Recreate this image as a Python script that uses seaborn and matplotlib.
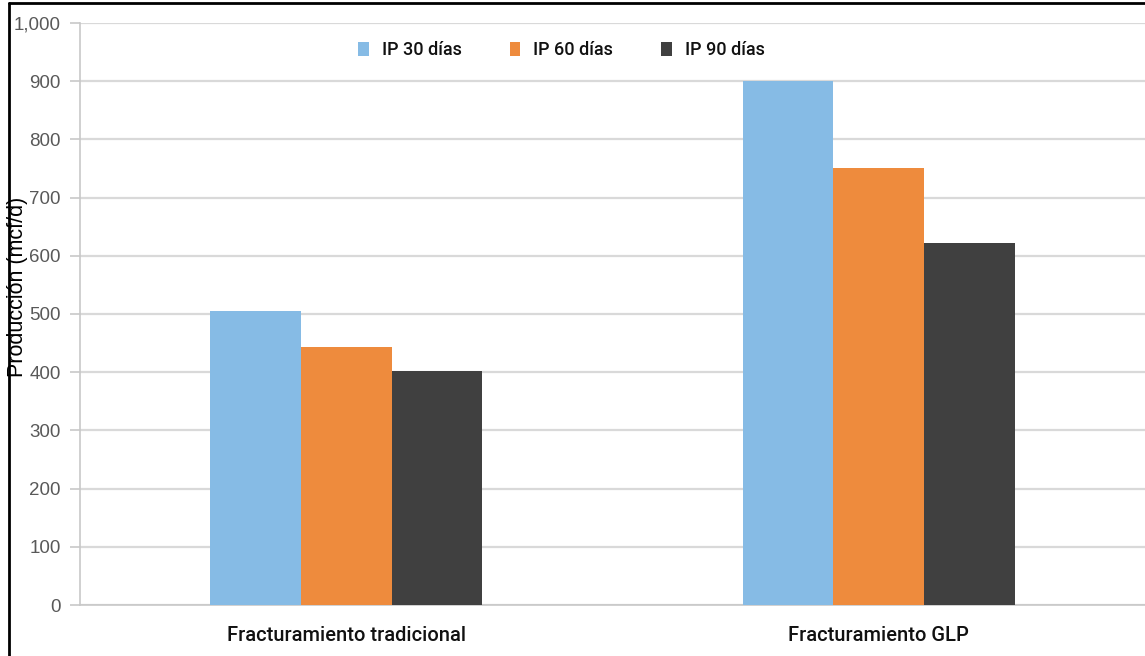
import matplotlib
matplotlib.use("Agg")
import matplotlib.pyplot as plt
import seaborn as sns
import pandas as pd
from matplotlib.lines import Line2D
from matplotlib.patches import Patch

# Production data (mcf/d) by fracturing method and initial-production window
categories = ["Fracturamiento tradicional", "Fracturamiento GLP"]
series = ["IP 30 días", "IP 60 días", "IP 90 días"]
ip30 = [505, 900]
ip60 = [443, 751]
ip90 = [402, 622]
yticks = [0, 100, 200, 300, 400, 500, 600, 700, 800, 900, 1000]
colors = ["#86BBE5", "#EE8B3D", "#404040"]

rows = []
for s, vals in zip(series, [ip30, ip60, ip90]):
    for c, v in zip(categories, vals):
        rows.append({"Método": c, "Serie": s, "Producción": v})
df = pd.DataFrame(rows)

sns.set_theme(style="white")
plt.rcParams["font.family"] = ["Liberation Sans", "DejaVu Sans"]
narrow = ["Roboto", "Liberation Sans"]

fig = plt.figure(figsize=(11.45, 6.56), dpi=100)
ax = fig.add_axes([80 / 1145, 1 - 605 / 656, 1 - 80 / 1145, (605 - 23) / 656])

sns.barplot(data=df, x="Método", y="Producción", hue="Serie",
            palette=colors, width=0.51, saturation=1, ax=ax,
            linewidth=0, legend=False, zorder=3)

ax.set_xlim(-0.5, 1.5)
ax.set_ylim(0, 1000)
ax.set_yticks(yticks)
ax.set_yticklabels([f"{t:,}" for t in yticks], color="#595959", fontsize=13.5)
ax.yaxis.grid(True, color="#D9D9D9", linewidth=1.6, zorder=0)
ax.set_axisbelow(True)

# Category labels
ax.set_xticks([0, 1])
ax.set_xticklabels(categories, fontsize=14.5, color="#111111",
                   family=narrow, fontweight="medium")
ax.tick_params(axis="x", length=0, pad=15)
ax.set_xticks([-0.5, 0.5, 1.5], minor=True)
ax.tick_params(axis="x", which="minor", length=6, width=1.2, color="#C8C8C8", direction="out")
ax.tick_params(axis="y", length=7, width=1.2, color="#C8C8C8", pad=7, left=True)
ax.set_xlabel("")

ax.set_ylabel("Producción (mcf/d)", fontsize=15.5, color="black")
ax.yaxis.set_label_coords(-0.049, 0.546)

for side in ["top", "right"]:
    ax.spines[side].set_visible(False)
ax.spines["left"].set_color("#C8C8C8")
ax.spines["left"].set_linewidth(1.2)
ax.spines["bottom"].set_color("#C8C8C8")
ax.spines["bottom"].set_linewidth(1.2)

handles = [Patch(facecolor=c, edgecolor="none") for c in colors]
leg = ax.legend(handles, series, loc="center", bbox_to_anchor=(0.452, 0.953),
                ncol=3, frameon=True, facecolor="white", edgecolor="white",
                framealpha=1, handlelength=0.6, handleheight=0.8,
                columnspacing=2.66, handletextpad=0.72,
                prop={"family": narrow, "weight": "medium", "size": 13})
for t in leg.get_texts():
    t.set_color("#111111")

# Page frame lines on the left and top
fig.add_artist(Line2D([8.5 / 1145, 8.5 / 1145], [0, 1 - 3 / 656],
                      transform=fig.transFigure, color="black", linewidth=2))
fig.add_artist(Line2D([8.5 / 1145, 1], [1 - 3 / 656, 1 - 3 / 656],
                      transform=fig.transFigure, color="black", linewidth=2))

fig.savefig("out.png", dpi=100)
